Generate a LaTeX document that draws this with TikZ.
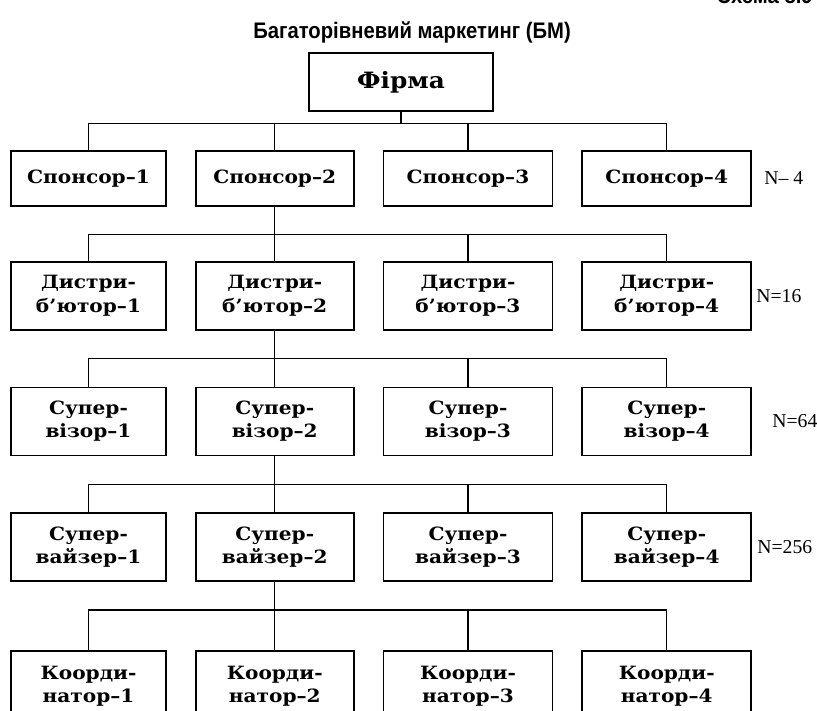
\documentclass[tikz,border=0pt]{standalone}
\usepackage{fontspec}
\setmainfont{Liberation Serif}
\newfontfamily\boxfont{DejaVu Serif}[FakeStretch=1.1]
\newfontfamily\headfont{Liberation Sans}[FakeStretch=0.9]
\usetikzlibrary{positioning}

\begin{document}
\begin{tikzpicture}[x=0.025cm,y=0.025cm,node distance=14mm and 7mm,every node/.style={inner sep=0pt},
  box/.style={draw,line width=1.2pt,align=center,minimum height=17mm,font=\boxfont\bfseries\fontsize{13}{16.5}\selectfont},
  short/.style={minimum height=13.75mm},
  col1/.style={minimum width=38.75mm},col2/.style={minimum width=39.5mm},col3/.style={minimum width=42.25mm},
  nlabel/.style={font=\fontsize{14}{16}\selectfont},
  head/.style={font=\headfont\bfseries\fontsize{16}{19}\selectfont},
  link/.style={line width=0.8pt}]
\useasboundingbox (0,0) rectangle (817,-711);
\node[head] (title) at (412,-32) {Багаторівневий маркетинг (БМ)};
\node[head,anchor=base east] (scheme) at (813,-3) {Схема 8.9};
\node[box,minimum width=46mm,minimum height=14.5mm,font=\boxfont\bfseries\fontsize{16}{19}\selectfont] (firm) at (401,-82) {Фірма};
% спонсори
\node[box,short,col1] (s1) at (88.5,-178.5) {Спонсор–1};
\node[box,short,col2,right=of s1] (s2) {Спонсор–2};
\node[box,short,col3,right=of s2] (s3) {Спонсор–3};
\node[box,short,col3,right=of s3] (s4) {Спонсор–4};
\node[nlabel,right=3mm of s4] (n1) {N– 4};
% дистриб'ютори
\node[box,col1,below=13.5mm of s1] (d1) {Дистри-\\б’ютор–1};
\node[box,col2,right=of d1] (d2) {Дистри-\\б’ютор–2};
\node[box,col3,right=of d2] (d3) {Дистри-\\б’ютор–3};
\node[box,col3,right=of d3] (d4) {Дистри-\\б’ютор–4};
\node[nlabel,right=1mm of d4] (n2) {N=16};
% супервізори
\node[box,col1,below=of d1] (v1) {Супер-\\візор–1};
\node[box,col2,right=of v1] (v2) {Супер-\\візор–2};
\node[box,col3,right=of v2] (v3) {Супер-\\візор–3};
\node[box,col3,right=of v3] (v4) {Супер-\\візор–4};
\node[nlabel,right=5mm of v4] (n3) {N=64};
% супервайзери
\node[box,col1,below=of v1] (w1) {Супер-\\вайзер–1};
\node[box,col2,right=of w1] (w2) {Супер-\\вайзер–2};
\node[box,col3,right=of w2] (w3) {Супер-\\вайзер–3};
\node[box,col3,right=of w3] (w4) {Супер-\\вайзер–4};
\node[nlabel,right=1.25mm of w4] (n4) {N=256};
% координатори
\node[box,col1,minimum height=17.5mm,below=17mm of w1] (k1) {Коорди-\\натор–1};
\node[box,col2,minimum height=17.5mm,right=of k1] (k2) {Коорди-\\натор–2};
\node[box,col3,minimum height=17.5mm,right=of k2] (k3) {Коорди-\\натор–3};
\node[box,col3,minimum height=17.5mm,right=of k3] (k4) {Коорди-\\натор–4};
% з'єднання
\foreach \pn/\rw/\gp in {firm/s/3mm,s2/d/7mm,d2/v/7mm,v2/w/7mm,w2/k/7mm}{
  \coordinate[below=\gp of \pn.south] (bus\rw);
  \draw[link] (\pn.south) -- (bus\rw);
  \draw[link] (\rw1.north) |- (bus\rw -| \rw4.north) -- (\rw4.north);
  \draw[link] (\rw2.north) -- (\rw2.north |- bus\rw);
  \draw[link] (\rw3.north) -- (\rw3.north |- bus\rw);
}
\end{tikzpicture}
\end{document}
